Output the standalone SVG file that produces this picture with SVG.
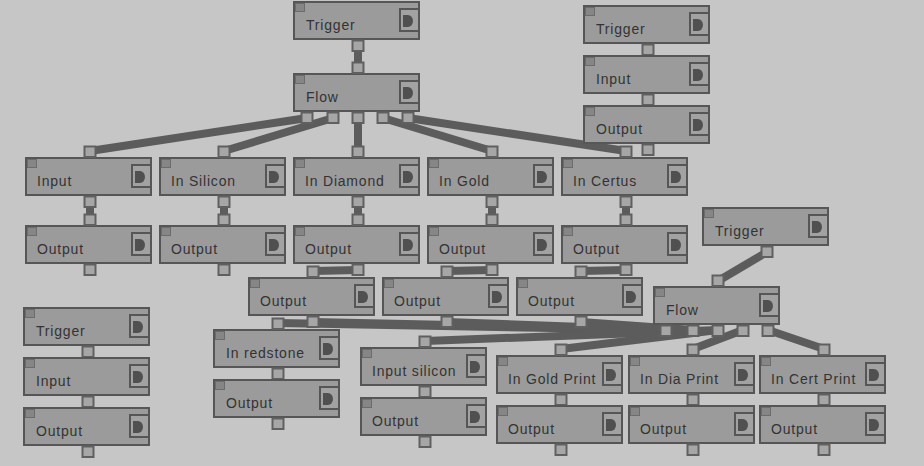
<svg xmlns="http://www.w3.org/2000/svg" xmlns:xlink="http://www.w3.org/1999/xlink" width="924" height="466" viewBox="0 0 924 466">
<style>
.box{fill:#9b9b9b;stroke:#565656;stroke-width:2}
.sq{fill:#868686;stroke:#6c6c6c;stroke-width:1}
.btn{fill:#a2a2a2;stroke:#565656;stroke-width:2}
.d{fill:#505050}
.port{fill:#a6a6a6;stroke:#606060;stroke-width:2}
.lbl{font-family:"Liberation Sans",Arial,sans-serif;font-size:14px;letter-spacing:0.8px;fill:#333333}
.wire{stroke:#5c5c5c;stroke-width:8;fill:none;stroke-linecap:butt}
</style>
<defs>
<g id="nb">
<rect class="box" x="1" y="1" width="125" height="37"/>
<rect class="sq" x="2.5" y="2.5" width="9" height="8"/>
<rect class="btn" x="107" y="8" width="19" height="22"/>
<path class="d" d="M110 14h5a5 6 0 0 1 0 12h-5z"/>
</g>
<rect id="port" class="port" x="0.5" y="0.5" width="11" height="10.5"/>
</defs>
<rect width="924" height="466" fill="#c6c6c6"/>

<g id="connectors">
<path class="wire" d="M358 46V67"/>
<path class="wire" d="M307 118L90 151"/>
<path class="wire" d="M333 118L224 151"/>
<path class="wire" d="M358 118V151"/>
<path class="wire" d="M383 118L492 151"/>
<path class="wire" d="M408 118L626 151"/>
<path class="wire" d="M90 201V220"/>
<path class="wire" d="M224 201V220"/>
<path class="wire" d="M358 201V220"/>
<path class="wire" d="M492 201V220"/>
<path class="wire" d="M626 201V220"/>
<path class="wire" d="M358 270L313 271"/>
<path class="wire" d="M492 270L447 271"/>
<path class="wire" d="M626 270L581 271"/>
<path class="wire" d="M767 252L718 281"/>
<path class="wire" d="M278 323L666 330"/>
<path class="wire" d="M313 322L693 330"/>
<path class="wire" d="M447 322L666 330"/>
<path class="wire" d="M425 341L718 330"/>
<path class="wire" d="M581 322L693 330"/>
<path class="wire" d="M561 349L718 330"/>
<path class="wire" d="M743 330L693 349"/>
<path class="wire" d="M768 330L824 349"/>
</g>

<g id="trigger-top"><use href="#nb" x="293" y="1"/><text class="lbl" x="306" y="30">Trigger</text><use href="#port" x="352" y="40"/></g>
<g id="flow-top"><use href="#nb" x="293" y="73"/><text class="lbl" x="306" y="102">Flow</text><use href="#port" x="352" y="62"/><use href="#port" x="301" y="112"/><use href="#port" x="327" y="112"/><use href="#port" x="352" y="112"/><use href="#port" x="377" y="112"/><use href="#port" x="402" y="112"/></g>

<g id="in-input"><use href="#nb" x="25" y="157"/><text class="lbl" x="37" y="186">Input</text><use href="#port" x="84" y="146"/><use href="#port" x="84" y="196"/></g>
<g id="in-silicon"><use href="#nb" x="159" y="157"/><text class="lbl" x="171" y="186">In Silicon</text><use href="#port" x="218" y="146"/><use href="#port" x="218" y="196"/></g>
<g id="in-diamond"><use href="#nb" x="293" y="157"/><text class="lbl" x="305" y="186">In Diamond</text><use href="#port" x="352" y="146"/><use href="#port" x="352" y="196"/></g>
<g id="in-gold"><use href="#nb" x="427" y="157"/><text class="lbl" x="439" y="186">In Gold</text><use href="#port" x="486" y="146"/><use href="#port" x="486" y="196"/></g>
<g id="in-certus"><use href="#nb" x="561" y="157"/><text class="lbl" x="573" y="186">In Certus</text><use href="#port" x="620" y="146"/><use href="#port" x="620" y="196"/></g>

<g id="out-input"><use href="#nb" x="25" y="225"/><text class="lbl" x="37" y="254">Output</text><use href="#port" x="84" y="214"/><use href="#port" x="84" y="264"/></g>
<g id="out-silicon"><use href="#nb" x="159" y="225"/><text class="lbl" x="171" y="254">Output</text><use href="#port" x="218" y="214"/><use href="#port" x="218" y="264"/></g>
<g id="out-diamond"><use href="#nb" x="293" y="225"/><text class="lbl" x="305" y="254">Output</text><use href="#port" x="352" y="214"/><use href="#port" x="352" y="264"/></g>
<g id="out-gold"><use href="#nb" x="427" y="225"/><text class="lbl" x="439" y="254">Output</text><use href="#port" x="486" y="214"/><use href="#port" x="486" y="264"/></g>
<g id="out-certus"><use href="#nb" x="561" y="225"/><text class="lbl" x="573" y="254">Output</text><use href="#port" x="620" y="214"/><use href="#port" x="620" y="264"/></g>

<g id="out-a"><use href="#nb" x="248" y="277"/><text class="lbl" x="260" y="306">Output</text><use href="#port" x="307" y="266"/><use href="#port" x="307" y="316"/></g>
<g id="out-b"><use href="#nb" x="382" y="277"/><text class="lbl" x="394" y="306">Output</text><use href="#port" x="441" y="266"/><use href="#port" x="441" y="316"/></g>
<g id="out-c"><use href="#nb" x="516" y="277"/><text class="lbl" x="528" y="306">Output</text><use href="#port" x="575" y="266"/><use href="#port" x="575" y="316"/></g>

<g id="trigger-tr"><use href="#nb" x="583" y="5"/><text class="lbl" x="596" y="34">Trigger</text><use href="#port" x="642" y="44"/></g>
<g id="input-tr"><use href="#nb" x="583" y="55"/><text class="lbl" x="596" y="84">Input</text><use href="#port" x="642" y="94"/></g>
<g id="output-tr"><use href="#nb" x="583" y="105"/><text class="lbl" x="596" y="134">Output</text><use href="#port" x="642" y="144"/></g>

<g id="trigger-bl"><use href="#nb" x="23" y="307"/><text class="lbl" x="36" y="336">Trigger</text><use href="#port" x="82" y="346"/></g>
<g id="input-bl"><use href="#nb" x="23" y="357"/><text class="lbl" x="36" y="386">Input</text><use href="#port" x="82" y="396"/></g>
<g id="output-bl"><use href="#nb" x="23" y="407"/><text class="lbl" x="36" y="436">Output</text><use href="#port" x="82" y="446"/></g>

<g id="in-redstone"><use href="#nb" x="213" y="329"/><text class="lbl" x="226" y="358">In redstone</text><use href="#port" x="272" y="318"/><use href="#port" x="272" y="368"/></g>
<g id="out-redstone"><use href="#nb" x="213" y="379"/><text class="lbl" x="226" y="408">Output</text><use href="#port" x="272" y="418"/></g>

<g id="input-silicon"><use href="#nb" x="360" y="347"/><text class="lbl" x="372" y="376">Input silicon</text><use href="#port" x="419" y="336"/><use href="#port" x="419" y="386"/></g>
<g id="out-input-silicon"><use href="#nb" x="360" y="397"/><text class="lbl" x="372" y="426">Output</text><use href="#port" x="419" y="436"/></g>

<g id="in-gold-print"><use href="#nb" x="496" y="355"/><text class="lbl" x="508" y="384">In Gold Print</text><use href="#port" x="555" y="344"/><use href="#port" x="555" y="394"/></g>
<g id="out-gold-print"><use href="#nb" x="496" y="405"/><text class="lbl" x="508" y="434">Output</text><use href="#port" x="555" y="444"/></g>
<g id="in-dia-print"><use href="#nb" x="628" y="355"/><text class="lbl" x="640" y="384">In Dia Print</text><use href="#port" x="687" y="344"/><use href="#port" x="687" y="394"/></g>
<g id="out-dia-print"><use href="#nb" x="628" y="405"/><text class="lbl" x="640" y="434">Output</text><use href="#port" x="687" y="444"/></g>
<g id="in-cert-print"><use href="#nb" x="759" y="355"/><text class="lbl" x="771" y="384">In Cert Print</text><use href="#port" x="818" y="344"/><use href="#port" x="818" y="394"/></g>
<g id="out-cert-print"><use href="#nb" x="759" y="405"/><text class="lbl" x="771" y="434">Output</text><use href="#port" x="818" y="444"/></g>

<g id="trigger-right"><use href="#nb" x="702" y="207"/><text class="lbl" x="715" y="236">Trigger</text><use href="#port" x="761" y="246"/></g>
<g id="flow-right"><use href="#nb" x="653" y="286"/><text class="lbl" x="666" y="315">Flow</text><use href="#port" x="712" y="275"/><use href="#port" x="660" y="325"/><use href="#port" x="687" y="325"/><use href="#port" x="712" y="325"/><use href="#port" x="737" y="325"/><use href="#port" x="762" y="325"/></g>
</svg>
